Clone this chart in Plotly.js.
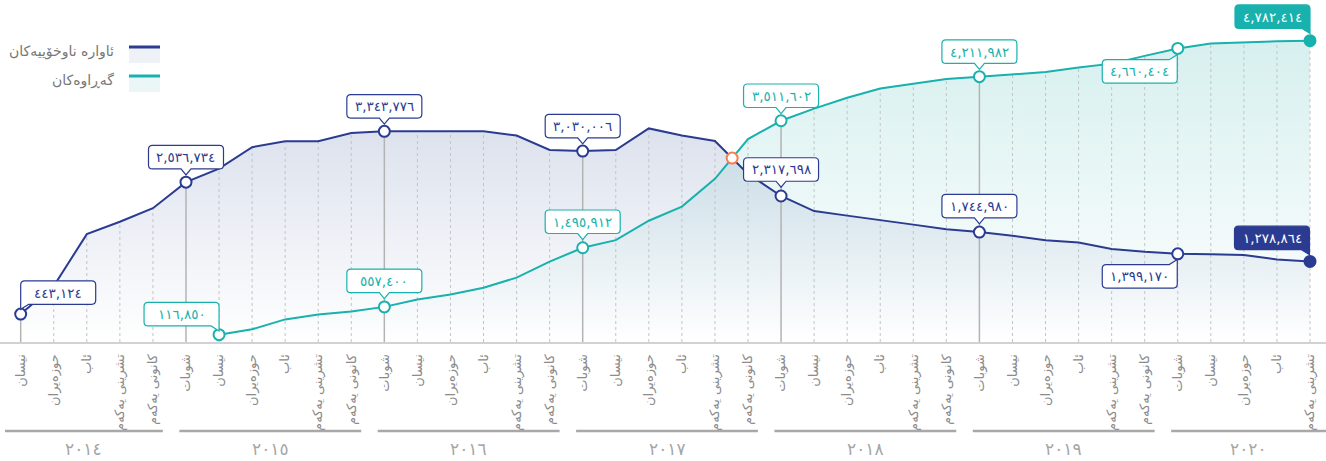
<!DOCTYPE html>
<html>
<head>
<meta charset="utf-8">
<script src="https://cdn.plot.ly/plotly-3.0.1.min.js"></script>
<style>html,body{margin:0;padding:0;background:#fff}#chart{width:1326px;height:461px}</style>
</head>
<body>
<div id="chart"></div>
<script>
// ---------- DATA ----------
const monthLabels = [
  'نیسان','حوزەیران','ئاب','تشرینی یەکەم','کانونی یەکەم',
  'شوبات','نیسان','حوزەیران','ئاب','تشرینی یەکەم','کانونی یەکەم',
  'شوبات','نیسان','حوزەیران','ئاب','تشرینی یەکەم','کانونی یەکەم',
  'شوبات','نیسان','حوزەیران','ئاب','تشرینی یەکەم','کانونی یەکەم',
  'شوبات','نیسان','حوزەیران','ئاب','تشرینی یەکەم','کانونی یەکەم',
  'شوبات','نیسان','حوزەیران','ئاب','تشرینی یەکەم','کانونی یەکەم',
  'شوبات','نیسان','حوزەیران','ئاب','تشرینی یەکەم'
];
const yearLabels = ['٢٠١٤','٢٠١٥','٢٠١٦','٢٠١٧','٢٠١٨','٢٠١٩','٢٠٢٠'];
const monthsPerYear = [5, 6, 6, 6, 6, 6, 5];

const seriesNames = ['ئاوارە ناوخۆییەکان', 'گەڕاوەکان'];

const idpValues = [
  443124, 889000, 1712000, 1909000, 2124000,
  2536734, 2751000, 3093000, 3185000, 3186000, 3318000,
  3343776, 3346000, 3348000, 3344000, 3277000, 3048000,
  3030006, 3048000, 3390000, 3277000, 3190000, 2669000,
  2317698, 2078000, 2006000, 1929000, 1863000, 1791000,
  1744980, 1685000, 1616000, 1579000, 1478000, 1431000,
  1399170, 1392000, 1382000, 1310000, 1278864
];
const returneeValues = [
  null, null, null, null, null,
  null, 116850, 201400, 358600, 438000, 484000,
  557400, 674400, 754600, 862000, 1022400, 1276000,
  1495912, 1617100, 1924600, 2148800, 2589900, 3222000,
  3511602, 3705300, 3877900, 4023200, 4103900, 4173300,
  4211982, 4249600, 4284300, 4356600, 4418800, 4541800,
  4660404, 4736300, 4759400, 4772900, 4782414
];
// points that carry a value label
const idpLabelled = [0, 5, 11, 17, 23, 29, 35, 39];
const returneeLabelled = [6, 11, 17, 23, 29, 35, 39];
const solidDropIdx = [0, 5, 11, 17, 23, 29];

// ---------- STYLE ----------
const NAVY = '#2a3b91';
const TEAL = '#18b1ad';
const ORANGE = '#f5804f';
const FONT = 'DejaVu Sans, Noto Sans, sans-serif';
// bubble centre offset in pixels (x right, y up) and tail type
const calloutStyle = {
  idp: {0: [37.5, 21.5, 'downLeft'], 23: [0, 26.5, 'down'], 29: [0, 26, 'down'],
        35: [-38, -22.5, 'upRight'], 39: [-38, 23.5, 'downRight']},
  ret: {6: [-37.5, 20.5, 'downRight'], 11: [0, 26, 'down'], 17: [0, 26, 'down'],
        35: [-38, -23, 'upRight'], 39: [-37.5, 24, 'downRight']},
  def: [0, 25, 'down']
};
const BW = 75, BH = 23.5, BR = 4;
const PLOT_BOTTOM = 342;            // pixel row of the x axis
const pyToPaper = py => (PLOT_BOTTOM - py) / PLOT_BOTTOM;

// ---------- HELPERS ----------
const xIdx = monthLabels.map((_, i) => i);
const lastIdx = monthLabels.length - 1;
const toArabicDigits = s => String(s).replace(/\d/g, d => '٠١٢٣٤٥٦٧٨٩'[+d]);
const fmt = v => toArabicDigits(v.toLocaleString('en-US'));

const traces = [];

// fills
traces.push({
  x: xIdx, y: returneeValues, type: 'scatter', mode: 'lines', fill: 'tozeroy',
  line: {width: 0, color: TEAL},
  fillgradient: {type: 'vertical', colorscale: [[0, 'rgba(30,170,165,0.0)'], [1, 'rgba(30,170,165,0.18)']]},
  hoverinfo: 'skip', showlegend: false
});
traces.push({
  x: xIdx, y: idpValues, type: 'scatter', mode: 'lines', fill: 'tozeroy',
  line: {width: 0, color: NAVY},
  fillgradient: {type: 'vertical', colorscale: [[0, 'rgba(70,100,160,0.0)'], [1, 'rgba(70,100,160,0.19)']]},
  hoverinfo: 'skip', showlegend: false
});

// drop lines
const topAt = i => Math.max(idpValues[i] || 0, returneeValues[i] || 0);
const dotX = [], dotY = [], solX = [], solY = [];
xIdx.forEach(i => {
  if (solidDropIdx.includes(i)) { solX.push(i, i, null); solY.push(0, topAt(i), null); }
  else { dotX.push(i, i, null); dotY.push(0, topAt(i), null); }
});
traces.push({x: dotX, y: dotY, type: 'scatter', mode: 'lines',
  line: {color: '#c4c4c4', width: 1, dash: 'dot'}, hoverinfo: 'skip', showlegend: false});
traces.push({x: solX, y: solY, type: 'scatter', mode: 'lines',
  line: {color: '#b3b3b3', width: 1.5}, hoverinfo: 'skip', showlegend: false});

// lines
traces.push({x: xIdx, y: idpValues, type: 'scatter', mode: 'lines', name: seriesNames[0],
  line: {color: NAVY, width: 2}, showlegend: false});
traces.push({x: xIdx, y: returneeValues, type: 'scatter', mode: 'lines', name: seriesNames[1],
  line: {color: TEAL, width: 2}, showlegend: false});

// crossing point (computed from data)
for (let i = 0; i < lastIdx; i++) {
  const a0 = idpValues[i], a1 = idpValues[i + 1], b0 = returneeValues[i], b1 = returneeValues[i + 1];
  if (b0 == null || b1 == null) continue;
  const d0 = a0 - b0, d1 = a1 - b1;
  if (d0 > 0 && d1 <= 0) {
    const t = d0 / (d0 - d1);
    traces.push({x: [i + t], y: [a0 + t * (a1 - a0)], type: 'scatter', mode: 'markers',
      marker: {size: 11, color: '#fff', line: {color: ORANGE, width: 2}}, showlegend: false, hoverinfo: 'skip'});
    break;
  }
}

// labelled markers
function markerTrace(idxs, vals, color) {
  return {
    x: idxs, y: idxs.map(i => vals[i]), type: 'scatter', mode: 'markers',
    marker: {size: 11, color: idxs.map(i => i === lastIdx ? color : '#fff'), line: {color: color, width: 2}},
    showlegend: false, hoverinfo: 'skip'
  };
}
traces.push(markerTrace(idpLabelled, idpValues, NAVY));
traces.push(markerTrace(returneeLabelled, returneeValues, TEAL));

// ---------- CALLOUT BUBBLES ----------
const annotations = [];
const shapes = [];
function bubblePath(cx, cy, tail) {
  const L = cx - BW / 2, R = cx + BW / 2, T = cy + BH / 2, B = cy - BH / 2, r = BR;
  let p = `M${L + r},${T} `;
  if (tail === 'upRight') { p += `L${R - 8},${T} L${R},${T + 5} L${R},${B + r} `; }
  else { p += `L${R - r},${T} Q${R},${T} ${R},${T - r} L${R},${B + r} `; }
  if (tail === 'downRight') { p += `L${R},${B - 5} L${R - 8},${B} `; }
  else { p += `Q${R},${B} ${R - r},${B} `; }
  if (tail === 'down') { p += `L${cx + 5},${B} L${cx},${B - 6} L${cx - 5},${B} `; }
  if (tail === 'downLeft') { p += `L${L + 8},${B} L${L},${B - 5} L${L},${T - r} `; }
  else { p += `L${L + r},${B} Q${L},${B} ${L},${B + r} L${L},${T - r} `; }
  p += `Q${L},${T} ${L + r},${T} Z`;
  return p;
}
function callout(i, vals, color, st) {
  const o = st[i] || calloutStyle.def;
  const filled = i === lastIdx;
  shapes.push({
    type: 'path', xref: 'x', yref: 'y', xsizemode: 'pixel', ysizemode: 'pixel',
    xanchor: i, yanchor: vals[i], path: bubblePath(o[0], o[1], o[2]),
    fillcolor: filled ? color : '#ffffff', line: {color: color, width: 1.2}, layer: 'above'
  });
  annotations.push({
    x: i, y: vals[i], xref: 'x', yref: 'y', text: fmt(vals[i]), showarrow: false,
    xshift: o[0], yshift: o[1], xanchor: 'center', yanchor: 'middle',
    font: {family: FONT, size: 13.5, color: filled ? '#ffffff' : color}
  });
}
idpLabelled.forEach(i => callout(i, idpValues, NAVY, calloutStyle.idp));
returneeLabelled.forEach(i => callout(i, returneeValues, TEAL, calloutStyle.ret));

// year groups
let start = 0;
const xr = [-0.626, 39.484];
monthsPerYear.forEach((n, k) => {
  const first = start, last = start + n - 1;
  const x0 = k === 0 ? xr[0] + 0.15 : first - 0.2;
  const x1 = k === monthsPerYear.length - 1 ? xr[1] : last + 0.3;
  shapes.push({type: 'line', xref: 'x', yref: 'paper', x0: x0, x1: x1, y0: pyToPaper(431), y1: pyToPaper(431),
    line: {color: '#a8a8a8', width: 2.5}});
  annotations.push({xref: 'x', yref: 'paper', x: (x0 + x1) / 2, y: pyToPaper(449), text: yearLabels[k],
    showarrow: false, font: {family: FONT, size: 17, color: '#a6a6a6'}, yanchor: 'middle'});
  start += n;
});

// custom legend (text left, swatch right)
const legendColors = [NAVY, TEAL];
const legendFill = ['rgba(70,100,160,0.09)', 'rgba(30,170,165,0.09)'];
const legendY = [47, 76];
seriesNames.forEach((nm, k) => {
  shapes.push({type: 'rect', xref: 'paper', yref: 'paper', x0: 129 / 1326, x1: 160 / 1326,
    y0: pyToPaper(legendY[k] + 16), y1: pyToPaper(legendY[k]), fillcolor: legendFill[k], line: {width: 0}});
  shapes.push({type: 'line', xref: 'paper', yref: 'paper', x0: 129 / 1326, x1: 160 / 1326,
    y0: pyToPaper(legendY[k]), y1: pyToPaper(legendY[k]), line: {color: legendColors[k], width: 3}});
  annotations.push({xref: 'paper', yref: 'paper', x: 116 / 1326, y: pyToPaper(legendY[k] + 4),
    xanchor: 'right', yanchor: 'middle', text: nm, showarrow: false,
    font: {family: FONT, size: 14, color: '#777777'}});
});

const layout = {
  width: 1326, height: 461,
  margin: {l: 0, r: 0, t: 0, b: 461 - PLOT_BOTTOM, pad: 0},
  paper_bgcolor: '#ffffff', plot_bgcolor: '#ffffff',
  showlegend: false,
  xaxis: {
    type: 'linear', range: xr, tickmode: 'array', tickvals: xIdx, ticktext: monthLabels,
    tickangle: -90, tickfont: {family: FONT, size: 13, color: '#8c8c8c'},
    showgrid: false, zeroline: false, showline: true, linecolor: '#d2d2d2', linewidth: 2,
    ticks: '', ticklabelstandoff: 5, fixedrange: true
  },
  yaxis: {range: [0, 5428700], visible: false, showgrid: false, zeroline: false, fixedrange: true},
  annotations: annotations,
  shapes: shapes,
  hovermode: false
};

Plotly.newPlot('chart', traces, layout, {displayModeBar: false, staticPlot: true});
</script>
</body>
</html>
